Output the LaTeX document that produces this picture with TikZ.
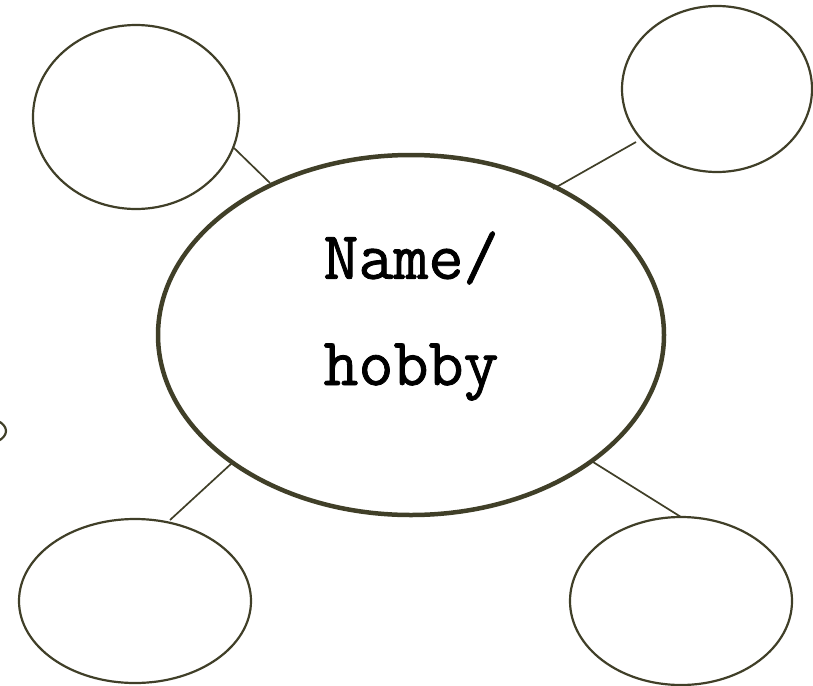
\documentclass[tikz,border=0pt]{standalone}
\usepackage{fontspec}
\newfontfamily\typewriter[FakeBold=1.2]{Latin Modern Mono}
\definecolor{ink}{HTML}{403F28}
\begin{document}
\begin{tikzpicture}[x=1pt,y=-1pt,
  bubble/.style={draw=ink,line width=2.2pt},
  hub/.style={draw=ink,line width=4.5pt},
  link/.style={draw=ink,line width=1.7pt},
  label/.style={font=\typewriter\fontsize{68}{68}\selectfont,text=black}]
\useasboundingbox (0,0) rectangle (813,685);
% central ellipse
\draw[hub] (411,335) ellipse [x radius=253, y radius=180];
% outer bubbles
\draw[bubble] (136,117) ellipse [x radius=103, y radius=92];
\draw[bubble] (717,89) ellipse [x radius=95, y radius=83];
\draw[bubble] (135,601) ellipse [x radius=116, y radius=82];
\draw[bubble] (681,601) ellipse [x radius=111, y radius=84];
% fragment at the left edge
\draw[bubble] (-20,431) ellipse [x radius=26, y radius=14];
% connectors
\coordinate (tlA) at (234,148); \coordinate (tlB) at (270,183);
\coordinate (trA) at (636,142); \coordinate (trB) at (553,189);
\coordinate (blA) at (170,520); \coordinate (blB) at (232,463);
\coordinate (brA) at (593,462); \coordinate (brB) at (681,517);
\draw[link] (tlA) -- (tlB);
\draw[link] (trA) -- (trB);
\draw[link] (blA) -- (blB);
\draw[link] (brA) -- (brB);
% label
\node[label] (name) at (411,258) {Name/};
\node[label] (hobby) at (411,372) {hobby};
\end{tikzpicture}
\end{document}
